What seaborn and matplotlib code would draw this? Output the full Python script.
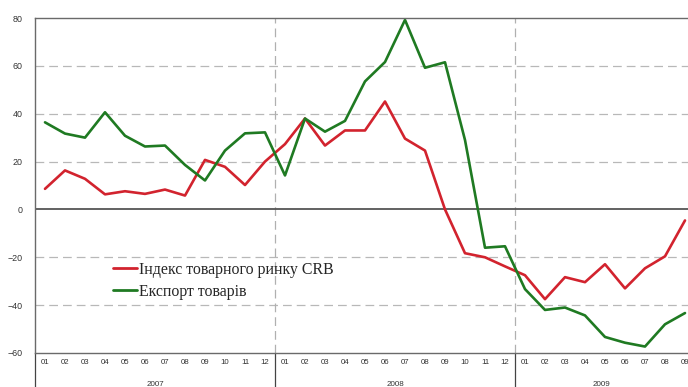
import matplotlib
matplotlib.use("Agg")
import matplotlib.pyplot as plt
from matplotlib.transforms import blended_transform_factory
import numpy as np
import pandas as pd
import seaborn as sns

# Monthly data, Jan 2007 - Sep 2009 (% change)
years = ["2007", "2008", "2009"]
months_per_year = [12, 12, 9]
month_labels = ["01", "02", "03", "04", "05", "06", "07", "08", "09", "10", "11", "12"] * 2 + \
               ["01", "02", "03", "04", "05", "06", "07", "08", "09"]

crb_index = [8.6, 16.3, 12.8, 6.3, 7.6, 6.5, 8.3, 5.8, 20.7, 17.8, 10.2, 20.0,
             27.3, 38.0, 26.7, 33.0, 33.0, 45.1, 29.6, 24.6, 0.0, -18.3, -20.0, -23.8,
             -27.5, -37.5, -28.3, -30.4, -22.9, -33.0, -24.6, -19.6, -4.6]
exports = [36.4, 31.7, 30.0, 40.6, 30.8, 26.3, 26.7, 18.6, 12.1, 24.6, 31.8, 32.2,
           14.2, 38.0, 32.5, 37.0, 53.5, 61.6, 79.2, 59.2, 61.5, 29.0, -16.0, -15.4,
           -33.3, -42.0, -41.0, -44.3, -53.3, -55.7, -57.3, -48.0, -43.3]

series_names = ["Індекс товарного ринку CRB", "Експорт товарів"]
colors = ["#d2232e", "#1f7a22"]

n = len(month_labels)
df = pd.DataFrame({
    "idx": list(range(n)) * 2,
    "value": crb_index + exports,
    "series": [series_names[0]] * n + [series_names[1]] * n,
})

sns.set_style("white")
plt.rcParams["font.family"] = ["Liberation Sans", "DejaVu Sans"]

W, H = 688, 387
fig = plt.figure(figsize=(W / 100, H / 100), dpi=100)
# plot area runs past the right edge of the figure
ax = fig.add_axes([35 / W, (H - 353) / H, 660 / W, 335 / H])

sns.lineplot(data=df, x="idx", y="value", hue="series", palette=colors,
             linewidth=1.9, ax=ax, legend=True)

ax.set_xlim(-0.5, n - 0.5)
ax.set_ylim(-60, 80)
ax.set_xlabel("")
ax.set_ylabel("")

# horizontal grid
for yv in [-40, -20, 20, 40, 60]:
    ax.axhline(yv, color="#b8b8b8", lw=0.9, ls=(0, (7, 4)), zorder=0)
ax.axhline(0, color="#555555", lw=1.3, zorder=1)

# year boundaries
bounds = np.cumsum(months_per_year)[:-1] - 0.5
for b in bounds:
    ax.axvline(b, color="#b0b0b0", lw=0.9, ls=(0, (7, 4)), zorder=0)

# spines
for s in ["top", "left", "bottom"]:
    ax.spines[s].set_visible(True)
    ax.spines[s].set_color("#6a6a6a")
    ax.spines[s].set_linewidth(1.0)
ax.spines["right"].set_visible(False)

# y axis
ax.set_yticks([-60, -40, -20, 0, 20, 40, 60, 80])
ax.tick_params(axis="y", length=0, pad=9, labelsize=6.4, labelcolor="#333333")

# month labels + separators
ax.set_xticks(range(n))
ax.set_xticklabels(month_labels)
ax.tick_params(axis="x", which="major", length=0, pad=4.2, labelsize=5.7,
               labelcolor="#333333")
ax.set_xticks(np.arange(n + 1) - 0.5, minor=True)
ax.tick_params(axis="x", which="minor", length=13.5, width=0.8,
               color="#444444", direction="out")

# year separators and labels below the axis
tr = blended_transform_factory(ax.transData, fig.transFigure)
y_axis_fig = (H - 353) / H
for b in [-0.5] + list(bounds):
    ax.plot([b, b], [y_axis_fig, 0], transform=tr, color="#444444",
            lw=0.9, clip_on=False)
start = 0
for yr, cnt in zip(years, months_per_year):
    end = min(start + cnt, n)
    left = start - 0.5
    right = min(end - 0.5, (W - 35) / 20 - 0.5)
    ax.text((left + right) / 2, (H - 384) / H, yr, transform=tr,
            ha="center", va="center", fontsize=5.8, color="#333333")
    start = end

# legend
handles, labels = ax.get_legend_handles_labels()
leg = ax.legend(handles, labels, loc="upper left",
                bbox_to_anchor=((113 - 35) / 660, (353 - 262) / 335),
                frameon=False, borderpad=0, borderaxespad=0,
                handlelength=1.5, handletextpad=0.15, labelspacing=0.35,
                prop={"family": ["Liberation Serif", "DejaVu Serif"], "size": 11.4})
for line in leg.get_lines():
    line.set_linewidth(2.0)

fig.savefig("out.png", dpi=100)
